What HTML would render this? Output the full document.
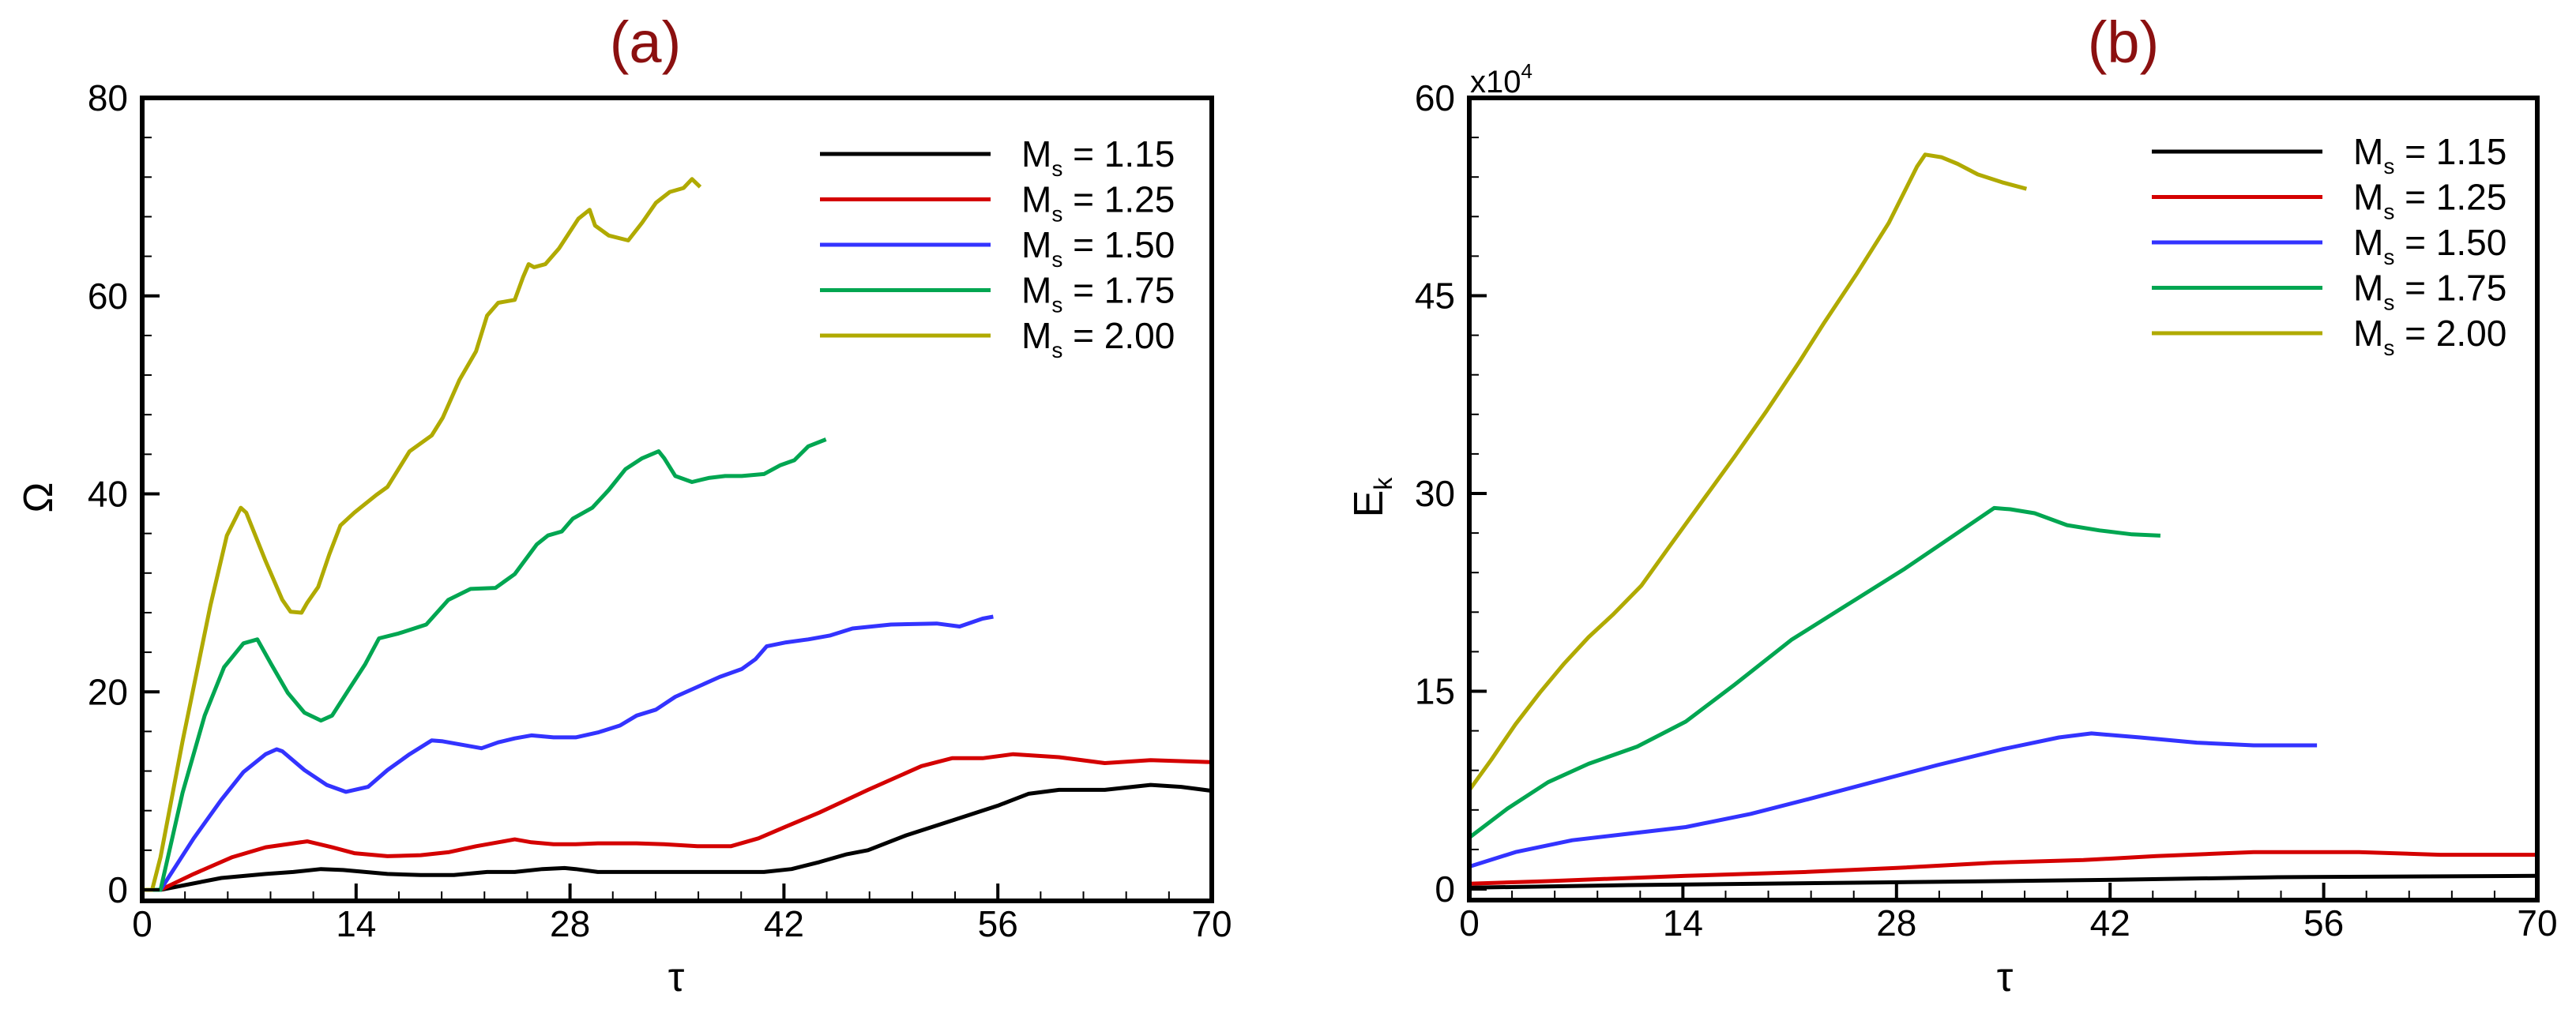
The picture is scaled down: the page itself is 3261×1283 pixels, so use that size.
<!DOCTYPE html>
<html><head><meta charset="utf-8"><style>
html,body{margin:0;padding:0;background:#fff;}
svg{display:block;font-family:"Liberation Sans",Arial,sans-serif;}
</style></head><body>
<svg id="fig" width="3261" height="1283" viewBox="0 0 3261 1283" xmlns="http://www.w3.org/2000/svg"></svg>
<script>
// ---------- data ----------
const seriesLabels = ["1.15","1.25","1.50","1.75","2.00"];
const seriesColors = ["#000000","#d40000","#3333ff","#00a651","#b0aa00"];
const xTicks = [0,14,28,42,56,70];
const yTicksA = [0,20,40,60,80];
const yTicksB = [0,15,30,45,60];

// Panel (a): Omega vs tau
const a115x=[0,1.2,5.18,8.08,9.89,11.7,13.15,16.05,18.23,20.4,22.57,24.38,26.2,27.64,28.37,29.82,34.17,40.69,42.5,44.31,46.12,47.5,50,53,56,58,60,63,66,68,70];
const a115y=[0,0,1.2,1.6,1.8,2.1,2.0,1.6,1.5,1.5,1.8,1.8,2.1,2.2,2.1,1.8,1.8,1.8,2.1,2.8,3.6,4.0,5.5,7.0,8.5,9.7,10.1,10.1,10.6,10.4,10.0];
const a125x=[0,1.2,3.37,5.9,8.08,10.8,12.43,13.88,16.05,18.23,20.04,21.85,23.3,24.38,25.47,26.92,28.37,29.82,32.36,34.17,36.34,38.52,40.33,42.14,44.31,47.5,51,53,55,57,60,63,66,70];
const a125y=[0,0,1.6,3.3,4.3,4.9,4.3,3.7,3.4,3.5,3.8,4.4,4.8,5.1,4.8,4.6,4.6,4.7,4.7,4.6,4.4,4.4,5.2,6.4,7.8,10.1,12.5,13.3,13.3,13.7,13.4,12.8,13.1,12.9];
const a150x=[0,1.2,3.37,5.18,6.63,8.08,8.8,9.17,10.62,12.07,13.33,14.78,16.05,17.5,18.95,19.67,20.76,22.21,23.3,24.38,25.47,26.92,28.37,29.82,31.27,32.36,33.62,34.89,36.34,37.79,39.24,40.14,40.87,42.14,43.59,45.04,46.49,49,52,53.5,55,55.7];
const a150y=[0,0,5.2,9.1,11.9,13.7,14.2,14.0,12.1,10.6,9.9,10.4,12.1,13.7,15.1,15.0,14.7,14.3,14.9,15.3,15.6,15.4,15.4,15.9,16.6,17.6,18.2,19.5,20.5,21.5,22.3,23.3,24.6,25.0,25.3,25.7,26.4,26.8,26.9,26.6,27.4,27.6];
const a175x=[0,1.2,2.64,4.09,5.36,6.63,7.54,8.44,9.53,10.62,11.7,12.43,13.51,14.6,15.5,16.78,18.59,20.04,21.49,23.12,24.38,25.83,26.56,27.46,28.19,29.46,30.54,31.63,32.72,33.8,34.17,34.89,35.98,37.07,38.15,39.24,40.69,41.78,42.68,43.59,44.75];
const a175y=[0,0,9.8,17.6,22.5,24.9,25.3,22.8,19.9,17.9,17.1,17.6,20.2,22.8,25.4,25.9,26.8,29.3,30.4,30.5,31.9,34.9,35.8,36.2,37.5,38.6,40.4,42.5,43.6,44.3,43.6,41.8,41.2,41.6,41.8,41.8,42.0,42.9,43.4,44.8,45.5];
const a200x=[0,0.65,1.2,2.64,4.46,5.54,6.45,6.81,8.08,9.17,9.71,10.43,10.8,11.52,12.25,12.97,13.88,15.33,16.05,17.5,18.95,19.67,20.76,21.85,22.57,23.3,24.38,24.93,25.29,25.65,26.38,27.28,28.55,29.28,29.64,30.54,31.81,32.72,33.62,34.53,35.43,35.98,36.52];
const a200y=[0,0,3.3,15.0,28.7,35.8,38.6,38.1,33.2,29.3,28.1,28.0,29.0,30.6,33.9,36.8,38.1,39.9,40.7,44.3,45.9,47.7,51.5,54.4,58.0,59.3,59.6,61.9,63.2,62.9,63.2,64.8,67.8,68.7,67.1,66.1,65.6,67.4,69.4,70.5,70.9,71.8,71.0];

// Panel (b): Ek (x10^4) vs tau
const b115x=[0,10.47,26.42,42.37,53.0,70];
const b115y=[0.1,0.3,0.5,0.7,0.9,1.0];
const b125x=[0,5.16,14.19,22.17,28.02,34.4,40.25,45.03,49.28,51.41,58.32,63.64,70];
const b125y=[0.4,0.6,1.0,1.3,1.6,2.0,2.2,2.5,2.7,2.8,2.8,2.6,2.6];
const b150x=[0,3.03,6.75,10.47,14.19,18.45,22.17,26.42,30.68,34.93,38.65,40.78,43.97,47.69,51.41,55.56];
const b150y=[1.7,2.8,3.7,4.2,4.7,5.7,6.8,8.1,9.4,10.6,11.5,11.8,11.5,11.1,10.9,10.9];
const b175x=[0,2.5,5.16,7.82,11.0,14.19,17.39,21.11,24.83,28.55,31.74,34.4,35.46,37.05,39.18,41.31,43.44,45.3];
const b175y=[3.9,6.1,8.1,9.5,10.8,12.7,15.5,18.9,21.6,24.3,26.8,28.9,28.8,28.5,27.6,27.2,26.9,26.8];
const b200x=[0,1.44,3.03,4.63,6.22,7.82,9.41,11.27,13.13,15.26,17.39,19.51,21.64,23.23,25.36,27.49,29.35,29.88,30.94,32.0,33.33,34.93,36.52];
const b200y=[7.5,9.8,12.5,14.9,17.1,19.1,20.8,23.0,26.0,29.4,32.8,36.3,40.0,42.9,46.6,50.5,54.8,55.7,55.5,55.0,54.2,53.6,53.1];

// ---------- drawing ----------
const NS="http://www.w3.org/2000/svg";
const svg=document.getElementById('fig');
function mk(tag,attrs,parent){const e=document.createElementNS(NS,tag);for(const k in attrs)e.setAttribute(k,attrs[k]);(parent||svg).appendChild(e);return e;}

function panel(opt){
  const g=mk('g',{});
  
  
  const L=opt.L,R=opt.R,T=opt.T,Y0=opt.Y0,B=opt.B;
  const sx=v=>L+(v-0)/70*(R-L);
  const sy=v=>Y0-(v/opt.ymax)*(Y0-T);
  opt.series.forEach((s,i)=>{
    const d=s[0].map((x,k)=>(k?'L':'M')+sx(x).toFixed(1)+' '+sy(s[1][k]).toFixed(1)).join(' ');
    const p=mk('path',{d:d,fill:'none',stroke:seriesColors[i],'stroke-width':5,'stroke-linejoin':'round'},g);
    
    
  });
  for(let v=0;v<=70.001;v+=2.8){
    const major=Math.abs(v/14-Math.round(v/14))<1e-6;
    const t=mk('line',{x1:sx(v),x2:sx(v),y1:B,y2:B-(major?22:12),stroke:'#000','stroke-width':major?4:2},g);
    
    
  }
  for(let v=0;v<=opt.ymax+1e-6;v+=opt.minor){
    const major=Math.abs(v/opt.major-Math.round(v/opt.major))<1e-6;
    const t=mk('line',{x1:L,x2:L+(major?22:12),y1:sy(v),y2:sy(v),stroke:'#000','stroke-width':major?4:2},g);
    
    
  }
  const f=mk('rect',{x:L,y:T,width:R-L,height:B-T,fill:'none',stroke:'#000','stroke-width':6},g);
  
  
  xTicks.forEach(v=>{
    const t=mk('text',{x:sx(v),y:B+45,'font-size':46,'text-anchor':'middle'},g);
    t.textContent=v;
    
    
  });
  opt.yTicks.forEach(v=>{
    const t=mk('text',{x:L-18,y:sy(v)+16,'font-size':46,'text-anchor':'end'},g);
    t.textContent=v;
    
    
  });
  seriesLabels.forEach((lab,i)=>{
    const y=opt.legY+i*57.5;
    const ln=mk('line',{x1:opt.legX,x2:opt.legX+216,y1:y,y2:y,stroke:seriesColors[i],'stroke-width':5},g);
    
    
    const t=mk('text',{x:opt.legX+255,y:y+16,'font-size':46},g);
    t.innerHTML='M<tspan font-size="28" dy="12">s</tspan><tspan dy="-12"> = '+lab+'</tspan>';
    
    
  });
  return {sx,sy};
}

panel({name:'panel-a',L:180,R:1534,T:124,Y0:1127,B:1141,ymax:80,major:20,minor:4,yTicks:yTicksA,legX:1038,legY:195,
  series:[[a115x,a115y],[a125x,a125y],[a150x,a150y],[a175x,a175y],[a200x,a200y]]});
panel({name:'panel-b',L:1860,R:3212,T:124,Y0:1126,B:1140,ymax:60,major:15,minor:3,yTicks:yTicksB,legX:2724,legY:192,
  series:[[b115x,b115y],[b125x,b125y],[b150x,b150y],[b175x,b175y],[b200x,b200y]]});

function txt(s,attrs,name){const t=mk('text',attrs);t.innerHTML=s;return t;}
txt('(a)',{x:817,y:79,'font-size':74,'text-anchor':'middle',fill:'#8b1010'},'panel-a-title');
txt('(b)',{x:2688,y:79,'font-size':74,'text-anchor':'middle',fill:'#8b1010'},'panel-b-title');
txt('τ',{x:856,y:1255,'font-size':52,'text-anchor':'middle'},'x-axis-title-a');
txt('τ',{x:2538,y:1255,'font-size':52,'text-anchor':'middle'},'x-axis-title-b');
txt('Ω',{x:0,y:0,'font-size':52,'text-anchor':'middle',transform:'translate(66,630) rotate(-90)'},'y-axis-title-a');
txt('E<tspan font-size="32" dy="12">k</tspan>',{x:0,y:0,'font-size':52,'text-anchor':'middle',transform:'translate(1750,630) rotate(-90)'},'y-axis-title-b');
txt('x10<tspan font-size="26" dy="-18">4</tspan>',{x:1861,y:117,'font-size':40},'y-axis-multiplier');
</script>
</body></html>
